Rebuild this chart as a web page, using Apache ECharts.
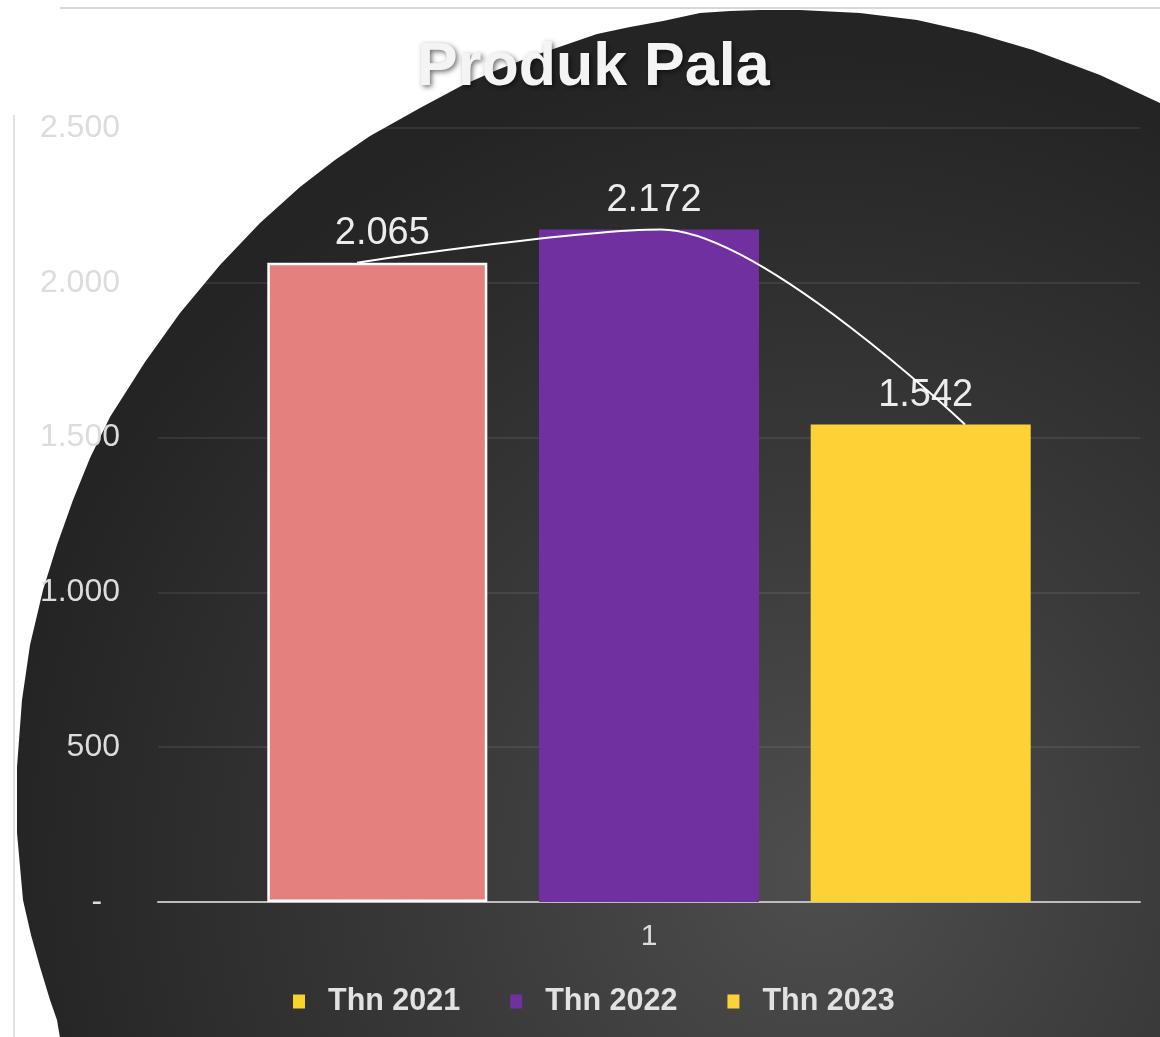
<!DOCTYPE html>
<html>
<head>
<meta charset="utf-8">
<script src="https://cdn.jsdelivr.net/npm/echarts@6/dist/echarts.min.js"></script>
<style>
html,body{margin:0;padding:0;background:#fff;}
#chart{width:1160px;height:1037px;}
</style>
</head>
<body>
<div id="chart"></div>
<script>
// ---- data ----
var titleText = 'Produk Pala';
var categories = ['1'];
var seriesNames = ['Thn 2021', 'Thn 2022', 'Thn 2023'];
var values2021 = [2065];
var values2022 = [2172];
var values2023 = [1542];
var trendValues = [2065, 2172, 1542];
var yTickLabels = ['-  ', '500', '1.000', '1.500', '2.000', '2.500'];
var yMin = 0, yMax = 2500, yStep = 500;

function fmt(v){ return String(v).replace(/\B(?=(\d{3})+(?!\d))/g, '.'); }

var chart = echarts.init(document.getElementById('chart'));

// decorative background shape outline (not data)
var blobPoints = [
  [1260,103],[1160,103],[1100,75],[1033,50],[975,33],[917,20],[860,13],[800,10],[760,10],
  [730,11],[700,13],[663,21],[630,27],[597,34],[565,45],[530,57],[497,70],[463,85],
  [420,108],[370,136],[335,160],[300,187],[260,223],[220,265],[180,313],[145,362],
  [110,417],[90,458],[73,500],[57,545],[43,590],[30,645],[22,700],[17,767],[17,833],
  [23,900],[31,935],[40,967],[50,1000],[57,1020],[62,1050],[1260,1050]
];

var labelColor = '#dcdcdc';
var font = '"Liberation Sans", Arial, sans-serif';

function valueLabel() {
  return { show: true, position: 'top', distance: 10, offset: [5, 0], color: '#ececec',
           fontFamily: font, fontSize: 38, formatter: function (p) { return fmt(p.value); } };
}

var option = {
  animation: false,
  graphic: [
    {
      type: 'polygon', z: -10, silent: true,
      shape: { points: blobPoints },
      style: {
        fill: {
          type: 'radial', x: 820, y: 870, r: 820, global: true,
          colorStops: [
            { offset: 0, color: '#4e4e4e' },
            { offset: 0.45, color: '#3a3a3a' },
            { offset: 1, color: '#242424' }
          ]
        }
      }
    },
    { type: 'line', z: -9, silent: true, shape: { x1: 60, y1: 8, x2: 1160, y2: 8 }, style: { stroke: '#d8d8d8', lineWidth: 2 } },
    { type: 'line', z: -9, silent: true, shape: { x1: 14, y1: 115, x2: 14, y2: 1037 }, style: { stroke: '#e4e4e4', lineWidth: 2 } }
  ],
  title: {
    text: titleText,
    left: 412, top: 33,
    textStyle: {
      fontFamily: font, fontSize: 61, fontWeight: 'bold', color: '#f4f4f4',
      textShadowColor: 'rgba(0,0,0,0.55)', textShadowBlur: 5, textShadowOffsetX: 2, textShadowOffsetY: 2
    }
  },
  legend: {
    data: [
      { name: seriesNames[0], itemStyle: { color: '#f6d42a', borderWidth: 0 } },
      { name: seriesNames[1], itemStyle: { color: '#7030a0', borderWidth: 0 } },
      { name: seriesNames[2], itemStyle: { color: '#fdd238', borderWidth: 0 } }
    ],
    left: 288, top: 981,
    itemWidth: 12, itemHeight: 14, itemGap: 50,
    icon: 'rect',
    textStyle: { fontFamily: font, fontSize: 30.5, fontWeight: 'bold', color: '#e2e2e2', padding: [0, 0, 0, 18] }
  },
  grid: [
    { left: 158, right: 20, top: 128, bottom: 135 },
    { left: 357, right: 195, top: 128, bottom: 135 }
  ],
  xAxis: [
    {
      type: 'category', data: categories, gridIndex: 0,
      axisLine: { show: true, lineStyle: { color: '#bdbdbd', width: 2 } },
      axisTick: { show: false },
      axisLabel: { color: labelColor, fontFamily: font, fontSize: 30, margin: 20 }
    },
    {
      type: 'category', data: ['a', 'b', 'c'], gridIndex: 1, boundaryGap: false, show: false
    }
  ],
  yAxis: [
    {
      type: 'value', gridIndex: 0, min: yMin, max: yMax, interval: yStep,
      axisLine: { show: false }, axisTick: { show: false },
      splitLine: { lineStyle: { color: 'rgba(255,255,255,0.1)', width: 1.5 } },
      axisLabel: {
        color: labelColor, fontFamily: font, fontSize: 32, margin: 38,
        formatter: function (v) { return yTickLabels[Math.round((v - yMin) / yStep)]; }
      }
    },
    { type: 'value', gridIndex: 1, min: yMin, max: yMax, show: false }
  ],
  series: [
    {
      name: seriesNames[0], type: 'bar', data: values2021, barWidth: 220, barGap: '23.5%',
      itemStyle: { color: '#e3817f', borderColor: '#ffffff', borderWidth: 2.5 },
      label: valueLabel()
    },
    {
      name: seriesNames[1], type: 'bar', data: values2022, barWidth: 220, barGap: '23.5%',
      itemStyle: { color: '#7030a0' },
      label: valueLabel()
    },
    {
      name: seriesNames[2], type: 'bar', data: values2023, barWidth: 220, barGap: '23.5%',
      itemStyle: { color: '#fed136' },
      label: valueLabel()
    },
    {
      name: 'trend', type: 'line', xAxisIndex: 1, yAxisIndex: 1, data: trendValues,
      smooth: 0.3, symbol: 'none', z: 5,
      lineStyle: { color: '#ffffff', width: 2 }
    }
  ]
};
chart.setOption(option);
</script>
</body>
</html>
